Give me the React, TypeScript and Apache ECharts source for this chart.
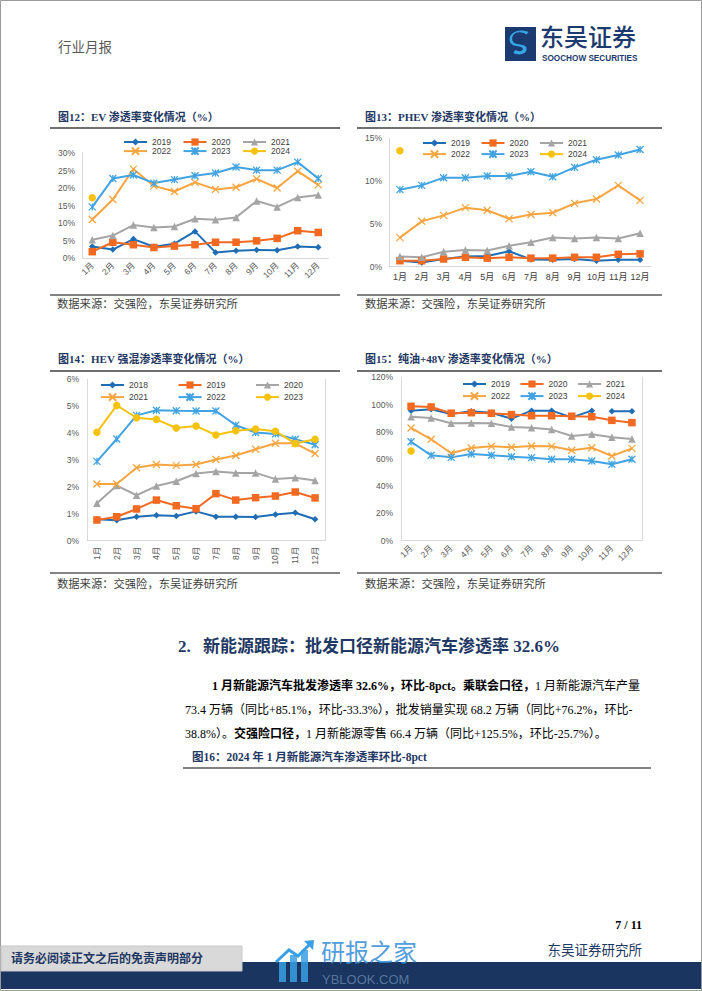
import React, { useEffect, useRef } from 'react';
import * as echarts from 'echarts';

// ---------------- data ----------------
const months = ['1月', '2月', '3月', '4月', '5月', '6月', '7月', '8月', '9月', '10月', '11月', '12月'];

// EV penetration (%)
const ev2019 = [3.3, 2.4, 5.4, 3.2, 4.1, 7.6, 1.6, 2.1, 2.3, 2.2, 3.3, 3.1];
const ev2020 = [1.8, 4.5, 3.8, 3.0, 3.4, 3.8, 4.5, 4.5, 4.9, 5.6, 7.8, 7.3];
const ev2021 = [5.2, 6.4, 9.4, 8.7, 9.0, 11.2, 10.9, 11.6, 16.3, 14.6, 17.3, 18.0];
const ev2022 = [11.0, 16.7, 25.4, 20.6, 19.0, 21.6, 19.6, 20.2, 22.6, 20.0, 24.8, 20.9];
const ev2023 = [14.6, 22.7, 23.7, 21.4, 22.4, 23.5, 24.3, 26.0, 25.1, 25.1, 27.4, 22.7];
const ev2024 = [17.2];

// PHEV penetration (%)
const ph2019 = [0.7, 0.5, 0.9, 1.2, 1.25, 1.8, 0.85, 0.8, 0.9, 0.7, 0.8, 0.8];
const ph2020 = [0.7, 0.7, 0.9, 1.1, 1.0, 1.1, 1.0, 1.0, 1.1, 1.1, 1.45, 1.5];
const ph2021 = [1.2, 1.1, 1.75, 1.95, 1.9, 2.45, 2.85, 3.4, 3.3, 3.4, 3.3, 3.9];
const ph2022 = [3.4, 5.3, 6.0, 6.9, 6.6, 5.6, 6.1, 6.3, 7.4, 7.9, 9.5, 7.75];
const ph2023 = [9.0, 9.5, 10.4, 10.4, 10.6, 10.6, 11.1, 10.5, 11.6, 12.5, 13.05, 13.7];
const ph2024 = [13.55];

// HEV penetration (%)
const hev2018 = [0.8, 0.76, 0.89, 0.95, 0.92, 1.09, 0.89, 0.89, 0.88, 0.97, 1.04, 0.8];
const hev2019 = [0.77, 0.89, 1.18, 1.51, 1.3, 1.19, 1.75, 1.51, 1.6, 1.66, 1.81, 1.59];
const hev2020 = [1.39, 2.05, 1.69, 2.03, 2.21, 2.5, 2.57, 2.52, 2.52, 2.29, 2.34, 2.24];
const hev2021 = [2.11, 2.11, 2.71, 2.83, 2.8, 2.83, 3.02, 3.17, 3.4, 3.62, 3.62, 3.24];
const hev2022 = [2.95, 3.78, 4.66, 4.85, 4.83, 4.82, 4.82, 4.29, 4.02, 3.97, 3.77, 3.57];
const hev2023 = [4.03, 5.03, 4.57, 4.51, 4.19, 4.26, 3.93, 4.09, 4.15, 4.07, 3.61, 3.77];

// ICE + 48V penetration (%)
const oil2019 = [95.5, 96.5, 93.1, 95.0, 94.0, 89.6, 95.5, 95.5, 90.6, 95.5, 95.0, 95.0];
const oil2019GapAfter = 10; // line is broken between Oct and Nov
const oil2020 = [98.7, 98.2, 93.6, 94.0, 93.6, 92.6, 91.8, 91.8, 91.4, 91.1, 88.4, 86.7];
const oil2021 = [91.1, 90.1, 86.2, 86.5, 86.2, 83.5, 83.0, 81.6, 76.9, 78.1, 75.9, 74.7];
const oil2022 = [82.8, 74.5, 64.2, 68.1, 69.3, 68.6, 69.6, 69.3, 66.4, 68.3, 62.2, 67.8];
const oil2023 = [72.7, 62.7, 61.2, 63.7, 62.7, 61.7, 61.0, 59.8, 59.8, 58.5, 56.1, 59.8];
const oil2024 = [65.9];

// ---------------- styles ----------------
const C = {
  blue: '#1f6db5',
  red: '#f26a21',
  gray: '#a5a5a5',
  orange: '#f7a541',
  sky: '#41a3e1',
  yellow: '#f5c20f',
};
const NAVY = '#1f3864';
const FONT_SERIF = '"Liberation Serif", "Noto Sans CJK SC", serif';
const FONT_SANS = '"Liberation Sans", Arial, "Noto Sans CJK SC", sans-serif';
const X_PATH = 'path://M0,0L10,10M0,10L10,0';
const STAR_PATH = 'path://M0,0L10,10M0,10L10,0M5,0L5,10';

echarts.graphic.registerShape(
  'soochowS',
  echarts.graphic.extendPath(
    'M72,18 C45,2 14,14 20,38 C25,56 66,46 72,62 C78,80 50,92 24,80 L30,70 C48,78 62,72 58,64 C53,54 14,62 10,40 C4,12 44,-4 80,10 Z',
    {}
  )
);

type Sty = 'diamond' | 'square' | 'triangle' | 'x' | 'star' | 'circle';
const symMap: Record<Sty, [string, number]> = {
  diamond: ['diamond', 6.5],
  square: ['rect', 7.5],
  triangle: ['triangle', 7.5],
  x: [X_PATH, 7],
  star: [STAR_PATH, 7],
  circle: ['circle', 7.5],
};

function ser(id: string, label: string, data: (number | null)[], color: string, sty: Sty, gi: number) {
  const [symbol, size] = symMap[sty];
  const stroke = sty === 'x' || sty === 'star';
  return {
    type: 'line',
    name: `${id}-${label}`,
    xAxisIndex: gi,
    yAxisIndex: gi,
    data,
    symbol,
    symbolSize: size,
    showSymbol: true,
    showAllSymbol: true,
    silent: true,
    lineStyle: { color, width: 2 },
    itemStyle: stroke
      ? { color, borderColor: color, borderWidth: 1.3 }
      : { color, borderWidth: 0 },
  };
}

function xAx(gi: number, rotate: number, color = '#595959', fontSize = 8.5) {
  return {
    type: 'category',
    gridIndex: gi,
    data: months,
    boundaryGap: true,
    axisLine: { show: true, onZero: false, lineStyle: { color: '#d9d9d9', width: 1 } },
    axisTick: { show: false },
    splitLine: { show: false },
    axisLabel: { rotate, interval: 0, fontSize, color, fontFamily: FONT_SANS, margin: 6 },
  };
}

function yAx(gi: number, max: number, interval: number, margin: number) {
  return {
    type: 'value',
    gridIndex: gi,
    min: 0,
    max,
    interval,
    axisLine: { show: true, lineStyle: { color: '#d9d9d9', width: 1 } },
    axisTick: { show: false },
    splitLine: { show: false },
    axisLabel: { formatter: '{value}%', fontSize: 8.5, color: '#595959', fontFamily: FONT_SANS, margin },
  };
}

function yRight(gi: number, max: number) {
  return {
    type: 'value',
    gridIndex: gi,
    position: 'right',
    min: 0,
    max,
    axisLine: { show: true, lineStyle: { color: '#d9d9d9', width: 1 } },
    axisTick: { show: false },
    splitLine: { show: false },
    axisLabel: { show: false },
  };
}

function leg(names: string[], left: number, centerY: number, gap: number) {
  return {
    data: names,
    left,
    top: centerY - 4.5,
    orient: 'horizontal',
    padding: 0,
    itemWidth: 23,
    itemHeight: 9,
    itemGap: gap,
    selectedMode: false,
    formatter: (n: string) => n.split('-')[1],
    textStyle: { fontSize: 8.5, color: '#404040', fontFamily: FONT_SANS, lineHeight: 9 },
  };
}

function t(text: string, x: number, y: number, o: any = {}) {
  const size = o.size || 12;
  return {
    type: 'text',
    silent: true,
    style: {
      text,
      x,
      y,
      fill: o.fill || '#000',
      fontSize: size,
      lineHeight: Math.round(size * 1.15),
      fontFamily: o.family || FONT_SERIF,
      fontWeight: o.weight || 'normal',
      align: o.align || 'left',
      verticalAlign: 'middle',
      opacity: o.opacity == null ? 1 : o.opacity,
    },
  };
}

function hline(x1: number, x2: number, y: number, stroke = '#404040', w = 1.5) {
  return { type: 'line', silent: true, shape: { x1, y1: y, x2, y2: y }, style: { stroke, lineWidth: w } };
}

function buildOption() {
  const series: any[] = [
    // EV
    ser('ev', '2019', ev2019, C.blue, 'diamond', 0),
    ser('ev', '2020', ev2020, C.red, 'square', 0),
    ser('ev', '2021', ev2021, C.gray, 'triangle', 0),
    ser('ev', '2022', ev2022, C.orange, 'x', 0),
    ser('ev', '2023', ev2023, C.sky, 'star', 0),
    ser('ev', '2024', ev2024, C.yellow, 'circle', 0),
    // PHEV
    ser('ph', '2019', ph2019, C.blue, 'diamond', 1),
    ser('ph', '2020', ph2020, C.red, 'square', 1),
    ser('ph', '2021', ph2021, C.gray, 'triangle', 1),
    ser('ph', '2022', ph2022, C.orange, 'x', 1),
    ser('ph', '2023', ph2023, C.sky, 'star', 1),
    ser('ph', '2024', ph2024, C.yellow, 'circle', 1),
    // HEV
    ser('hev', '2018', hev2018, C.blue, 'diamond', 2),
    ser('hev', '2019', hev2019, C.red, 'square', 2),
    ser('hev', '2020', hev2020, C.gray, 'triangle', 2),
    ser('hev', '2021', hev2021, C.orange, 'x', 2),
    ser('hev', '2022', hev2022, C.sky, 'star', 2),
    ser('hev', '2023', hev2023, C.yellow, 'circle', 2),
    // ICE + 48V
    ser('oil', '2019', oil2019.map((v, i) => (i < oil2019GapAfter ? v : null)), C.blue, 'diamond', 3),
    ser('oil', '2019', oil2019.map((v, i) => (i >= oil2019GapAfter ? v : null)), C.blue, 'diamond', 3),
    ser('oil', '2020', oil2020, C.red, 'square', 3),
    ser('oil', '2021', oil2021, C.gray, 'triangle', 3),
    ser('oil', '2022', oil2022, C.orange, 'x', 3),
    ser('oil', '2023', oil2023, C.sky, 'star', 3),
    ser('oil', '2024', oil2024, C.yellow, 'circle', 3),
  ];

  const para = {
    b: { fontWeight: 'bold', fontSize: 12, fontFamily: FONT_SERIF, fill: '#000' },
    n: { fontWeight: 'normal', fontSize: 12, fontFamily: FONT_SERIF, fill: '#000' },
  };
  const richLine = (text: string, x: number, y: number) => ({
    type: 'text',
    silent: true,
    style: { text, x, y, verticalAlign: 'middle', align: 'left', rich: para, fontSize: 12, fontFamily: FONT_SERIF },
  });

  const graphic: any[] = [
    // page frame
    { type: 'rect', silent: true, shape: { x: 0.5, y: 0.5, width: 701, height: 990 }, style: { fill: 'none', stroke: '#9a9a9a', lineWidth: 1 } },
    // header
    t('行业月报', 58, 47, { size: 13.5, fill: '#595959' }),
    { type: 'rect', silent: true, shape: { x: 505, y: 27, width: 31, height: 34 }, style: { fill: '#1b3a6f' } },
    { type: 'soochowS', silent: true, x: 507, y: 29, scaleX: 0.27, scaleY: 0.3, style: { fill: '#35a6e6' } },
    t('东吴证券', 540, 35, { size: 24, fill: '#1b3a6f', family: '"Noto Sans CJK SC", sans-serif', weight: 500 }),
    t('SOOCHOW SECURITIES', 542, 58.5, { size: 8.2, fill: '#1b3a6f', family: FONT_SANS, weight: 'bold' }),

    // figure 12
    t('图12：EV 渗透率变化情况（%）', 58, 117, { size: 11, fill: NAVY, weight: 'bold' }),
    hline(50, 340, 128),
    hline(50, 340, 295, '#595959', 1.5),
    t('数据来源：交强险，东吴证券研究所', 57, 304, { size: 11.3, fill: '#404040' }),
    // figure 13
    t('图13：PHEV 渗透率变化情况（%）', 365, 117, { size: 11, fill: NAVY, weight: 'bold' }),
    hline(357, 662, 128),
    hline(357, 662, 295, '#595959', 1.5),
    t('数据来源：交强险，东吴证券研究所', 365, 304, { size: 11.3, fill: '#404040' }),
    // figure 14
    t('图14：HEV 强混渗透率变化情况（%）', 58, 359, { size: 11, fill: NAVY, weight: 'bold' }),
    hline(50, 340, 371),
    hline(50, 340, 573, '#595959', 1.5),
    t('数据来源：交强险，东吴证券研究所', 57, 584, { size: 11.3, fill: '#404040' }),
    // figure 15
    t('图15：纯油+48V 渗透率变化情况（%）', 365, 359, { size: 11, fill: NAVY, weight: 'bold' }),
    hline(357, 662, 371),
    hline(357, 662, 573, '#595959', 1.5),
    t('数据来源：交强险，东吴证券研究所', 365, 584, { size: 11.3, fill: '#404040' }),

    // section heading
    t('2.', 178, 646, { size: 17, fill: NAVY, weight: 'bold' }),
    t('新能源跟踪：批发口径新能源汽车渗透率 32.6%', 203, 646, { size: 17, fill: NAVY, weight: 'bold' }),
    richLine('{b|1 月新能源汽车批发渗透率 32.6%，环比-8pct。乘联会口径，}{n|1 月新能源汽车产量}', 212, 686),
    richLine('{n|73.4 万辆（同比+85.1%，环比-33.3%），批发销量实现 68.2 万辆（同比+76.2%，环比-}', 185, 710),
    richLine('{n|38.8%）。}{b|交强险口径，}{n|1 月新能源零售 66.4 万辆（同比+125.5%，环比-25.7%）。}', 185, 734),
    t('图16：2024 年 1 月新能源汽车渗透率环比-8pct', 192, 757, { size: 11.5, fill: NAVY, weight: 'bold' }),
    hline(183, 651, 768, '#808080', 2),

    // footer
    t('7 / 11', 642, 925, { size: 12, weight: 'bold', align: 'right' }),
    t('东吴证券研究所', 642, 950, { size: 13.5, fill: NAVY, align: 'right' }),
    { type: 'rect', silent: true, shape: { x: 1, y: 962, width: 700, height: 27 }, style: { fill: '#1a355f' } },
    { type: 'rect', silent: true, shape: { x: 1, y: 946, width: 241, height: 25 }, style: { fill: '#d9d9d9', stroke: '#c8c8c8', lineWidth: 1 } },
    t('请务必阅读正文之后的免责声明部分', 11, 958.5, { size: 12, fill: NAVY, weight: 'bold' }),
    // watermark
    { type: 'rect', silent: true, shape: { x: 279, y: 962, width: 7, height: 20 }, style: { fill: '#3a9fe4', opacity: 0.85 } },
    { type: 'rect', silent: true, shape: { x: 290, y: 955, width: 7, height: 27 }, style: { fill: '#3a9fe4', opacity: 0.85 } },
    { type: 'rect', silent: true, shape: { x: 301, y: 950, width: 7, height: 32 }, style: { fill: '#3a9fe4', opacity: 0.85 } },
    { type: 'polyline', silent: true, shape: { points: [[276, 962], [289, 950], [298, 956], [311, 943]] }, style: { stroke: '#3a9fe4', lineWidth: 3, fill: 'none' } },
    { type: 'polygon', silent: true, shape: { points: [[304, 941], [314, 940], [313, 950]] }, style: { fill: '#3a9fe4' } },
    t('研报之家', 321, 950, { size: 24, fill: '#3a8fd8', family: '"Noto Sans CJK SC", sans-serif', opacity: 0.9 }),
    t('YBLOOK.COM', 322, 979.5, { size: 13, fill: '#5f7ea8', family: FONT_SANS, opacity: 0.9 }),
  ];

  return {
    animation: false,
    backgroundColor: '#ffffff',
    grid: [
      { left: 82, top: 153, width: 246.5, height: 105, outerBoundsMode: 'none' },
      { left: 389, top: 138.3, width: 262, height: 128.4, outerBoundsMode: 'none' },
      { left: 87, top: 379.3, width: 238, height: 161.4, outerBoundsMode: 'none' },
      { left: 401, top: 377.3, width: 241, height: 163.4, outerBoundsMode: 'none' },
    ],
    xAxis: [xAx(0, 45), xAx(1, 0, '#404040', 9), xAx(2, 90), xAx(3, 45)],
    yAxis: [yAx(0, 30, 5, 7), yAx(1, 15, 5, 7), yAx(2, 6, 1, 8), yAx(3, 120, 20, 8), yRight(2, 6), yRight(3, 120)],
    legend: [
      leg(['ev-2019', 'ev-2020', 'ev-2021'], 123, 142, 11.6),
      leg(['ev-2022', 'ev-2023', 'ev-2024'], 123, 151, 11.6),
      leg(['ph-2019', 'ph-2020', 'ph-2021'], 422, 143, 10.6),
      leg(['ph-2022', 'ph-2023', 'ph-2024'], 422, 154, 10.6),
      leg(['hev-2018', 'hev-2019', 'hev-2020'], 100, 385, 29.6),
      leg(['hev-2021', 'hev-2022', 'hev-2023'], 100, 397, 29.6),
      leg(['oil-2019', 'oil-2020', 'oil-2021'], 462, 384, 9.6),
      leg(['oil-2022', 'oil-2023', 'oil-2024'], 462, 396, 9.6),
    ],
    series,
    graphic,
  };
}

export default function App() {
  const ref = useRef<HTMLDivElement>(null);
  useEffect(() => {
    if (!ref.current) return;
    const chart = echarts.init(ref.current, null, { renderer: 'svg' });
    chart.setOption(buildOption() as any);
    return () => chart.dispose();
  }, []);
  return (
    <div
      ref={ref}
      style={{ position: 'absolute', left: 0, top: 0, width: 702, height: 991, background: '#ffffff' }}
    />
  );
}
